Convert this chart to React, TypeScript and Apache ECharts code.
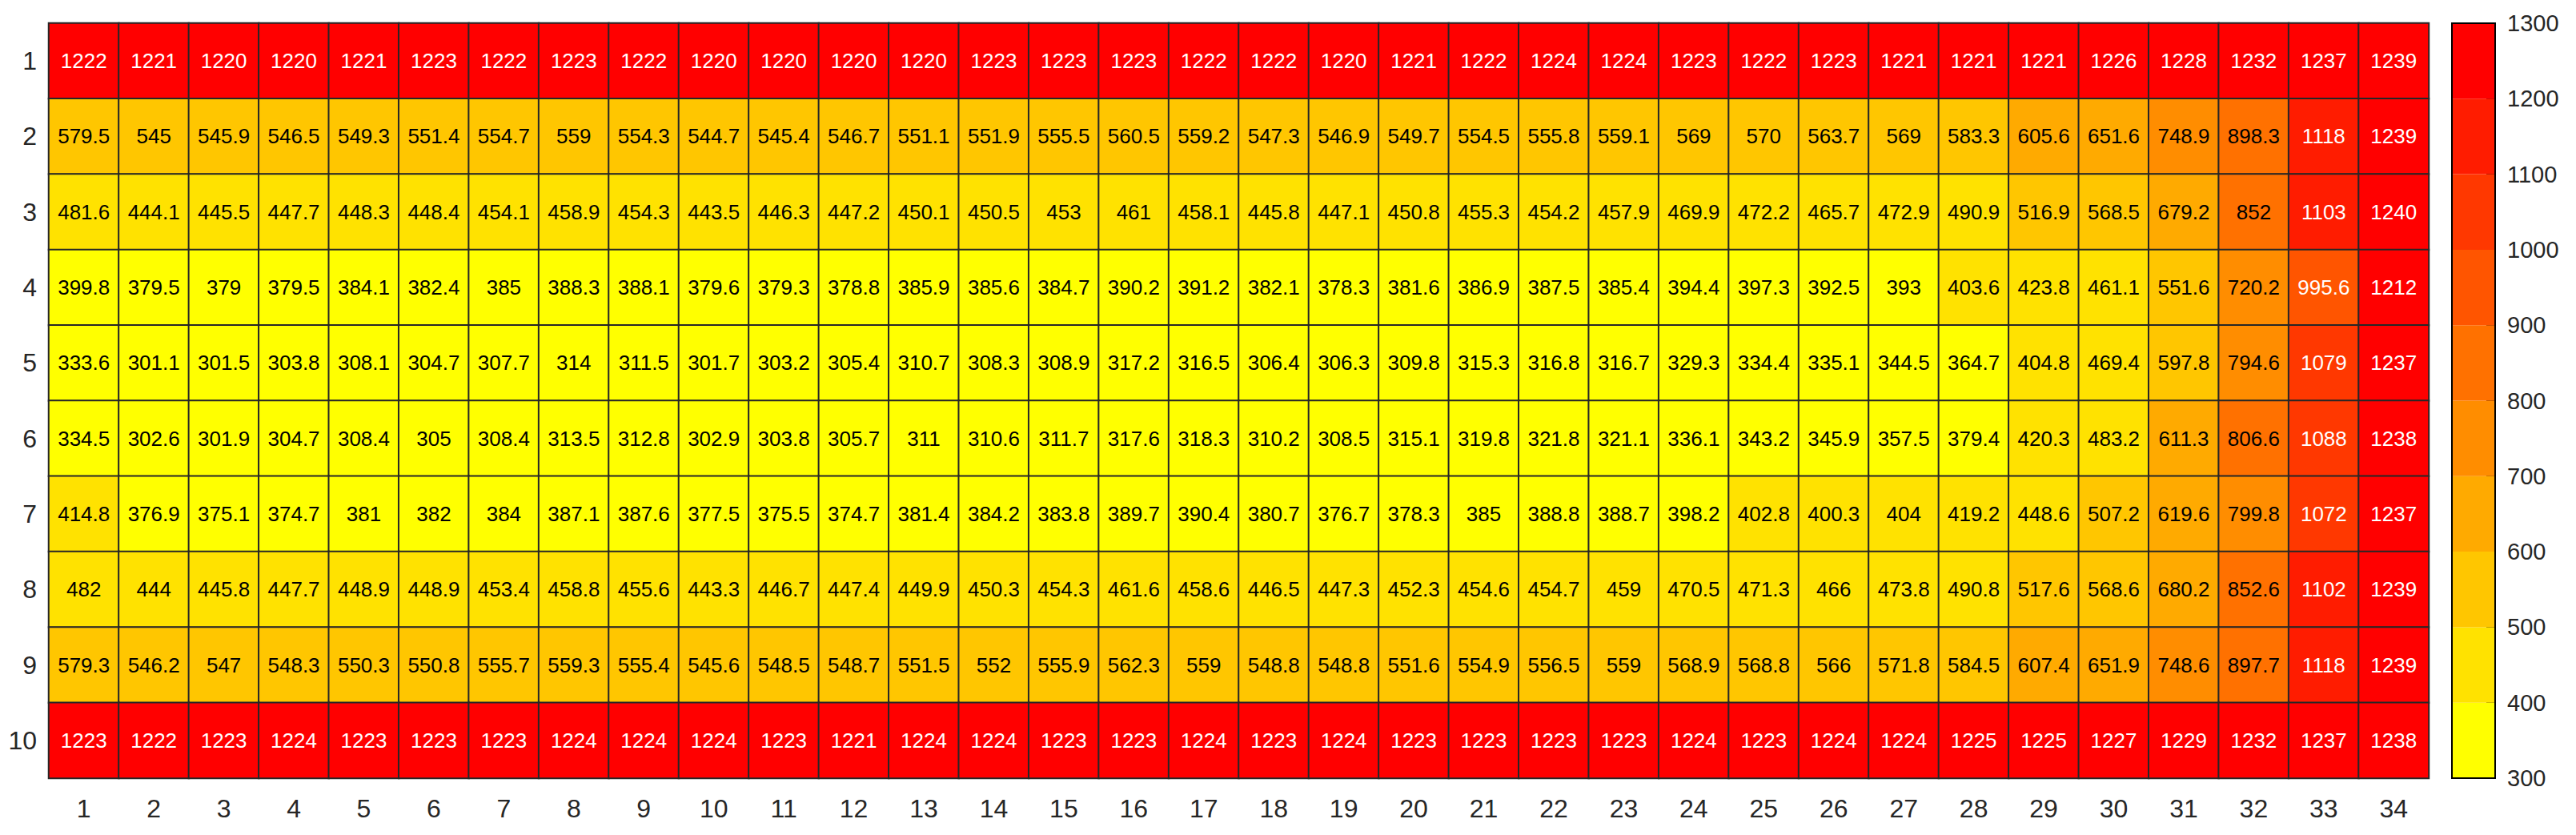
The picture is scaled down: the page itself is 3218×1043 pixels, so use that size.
import React, { useEffect, useRef } from "react";
import * as echarts from "echarts";

const colLabels = Array.from({ length: 34 }, (_, i) => String(i + 1));
const rowLabels = ["1", "2", "3", "4", "5", "6", "7", "8", "9", "10"];

const row1 = [1222, 1221, 1220, 1220, 1221, 1223, 1222, 1223, 1222, 1220, 1220, 1220, 1220, 1223, 1223, 1223, 1222, 1222, 1220, 1221, 1222, 1224, 1224, 1223, 1222, 1223, 1221, 1221, 1221, 1226, 1228, 1232, 1237, 1239];
const row2 = [579.5, 545, 545.9, 546.5, 549.3, 551.4, 554.7, 559, 554.3, 544.7, 545.4, 546.7, 551.1, 551.9, 555.5, 560.5, 559.2, 547.3, 546.9, 549.7, 554.5, 555.8, 559.1, 569, 570, 563.7, 569, 583.3, 605.6, 651.6, 748.9, 898.3, 1118, 1239];
const row3 = [481.6, 444.1, 445.5, 447.7, 448.3, 448.4, 454.1, 458.9, 454.3, 443.5, 446.3, 447.2, 450.1, 450.5, 453, 461, 458.1, 445.8, 447.1, 450.8, 455.3, 454.2, 457.9, 469.9, 472.2, 465.7, 472.9, 490.9, 516.9, 568.5, 679.2, 852, 1103, 1240];
const row4 = [399.8, 379.5, 379, 379.5, 384.1, 382.4, 385, 388.3, 388.1, 379.6, 379.3, 378.8, 385.9, 385.6, 384.7, 390.2, 391.2, 382.1, 378.3, 381.6, 386.9, 387.5, 385.4, 394.4, 397.3, 392.5, 393, 403.6, 423.8, 461.1, 551.6, 720.2, 995.6, 1212];
const row5 = [333.6, 301.1, 301.5, 303.8, 308.1, 304.7, 307.7, 314, 311.5, 301.7, 303.2, 305.4, 310.7, 308.3, 308.9, 317.2, 316.5, 306.4, 306.3, 309.8, 315.3, 316.8, 316.7, 329.3, 334.4, 335.1, 344.5, 364.7, 404.8, 469.4, 597.8, 794.6, 1079, 1237];
const row6 = [334.5, 302.6, 301.9, 304.7, 308.4, 305, 308.4, 313.5, 312.8, 302.9, 303.8, 305.7, 311, 310.6, 311.7, 317.6, 318.3, 310.2, 308.5, 315.1, 319.8, 321.8, 321.1, 336.1, 343.2, 345.9, 357.5, 379.4, 420.3, 483.2, 611.3, 806.6, 1088, 1238];
const row7 = [414.8, 376.9, 375.1, 374.7, 381, 382, 384, 387.1, 387.6, 377.5, 375.5, 374.7, 381.4, 384.2, 383.8, 389.7, 390.4, 380.7, 376.7, 378.3, 385, 388.8, 388.7, 398.2, 402.8, 400.3, 404, 419.2, 448.6, 507.2, 619.6, 799.8, 1072, 1237];
const row8 = [482, 444, 445.8, 447.7, 448.9, 448.9, 453.4, 458.8, 455.6, 443.3, 446.7, 447.4, 449.9, 450.3, 454.3, 461.6, 458.6, 446.5, 447.3, 452.3, 454.6, 454.7, 459, 470.5, 471.3, 466, 473.8, 490.8, 517.6, 568.6, 680.2, 852.6, 1102, 1239];
const row9 = [579.3, 546.2, 547, 548.3, 550.3, 550.8, 555.7, 559.3, 555.4, 545.6, 548.5, 548.7, 551.5, 552, 555.9, 562.3, 559, 548.8, 548.8, 551.6, 554.9, 556.5, 559, 568.9, 568.8, 566, 571.8, 584.5, 607.4, 651.9, 748.6, 897.7, 1118, 1239];
const row10 = [1223, 1222, 1223, 1224, 1223, 1223, 1223, 1224, 1224, 1224, 1223, 1221, 1224, 1224, 1223, 1223, 1224, 1223, 1224, 1223, 1223, 1223, 1223, 1224, 1223, 1224, 1224, 1225, 1225, 1227, 1229, 1232, 1237, 1238];

const rows = [row1, row2, row3, row4, row5, row6, row7, row8, row9, row10];

const levelEdges = [300, 400, 500, 600, 700, 800, 900, 1000, 1100, 1200, 1300];
const levelColors = ["#FFFF00", "#FFE200", "#FFC600", "#FFAA00", "#FF8D00", "#FF7100", "#FF5500", "#FF3800", "#FF1C00", "#FF0000"];
const whiteTextFrom = 900;

const FONT = "'Liberation Sans', Arial, Helvetica, sans-serif";
const TEXT = "#262626";

export default function App() {
  const ref = useRef<HTMLDivElement>(null);
  useEffect(() => {
    document.body.style.margin = "0";
    const chart = echarts.init(ref.current!, null, { renderer: "svg" });

    const heatData: any[] = [];
    rows.forEach((r, ri) => {
      r.forEach((v, ci) => {
        heatData.push({
          value: [ci, ri, v],
          label: { color: v >= whiteTextFrom ? "#FFFFFF" : "#000000" },
        });
      });
    });

    const pieces = levelColors.map((c, i) => ({
      gte: levelEdges[i],
      lt: i === levelColors.length - 1 ? levelEdges[i + 1] + 1 : levelEdges[i + 1],
      color: c,
    }));

    const cbData = levelColors.map((_, i) => [0, levelEdges[i], levelEdges[i + 1]]);

    chart.setOption({
      animation: false,
      backgroundColor: "#FFFFFF",
      textStyle: { fontFamily: FONT },
      grid: [
        { left: 61, right: 184, top: 29, bottom: 71, containLabel: false },
        { left: 3063, right: 101, top: 29, bottom: 71, show: true, borderColor: "#000000", borderWidth: 2, backgroundColor: "transparent", z: 5 },
      ],
      xAxis: [
        {
          type: "category",
          gridIndex: 0,
          data: colLabels,
          axisLine: { show: false },
          axisTick: { show: false },
          splitLine: { show: false },
          axisLabel: { fontSize: 32, color: TEXT, margin: 22, fontFamily: FONT },
        },
        {
          type: "category",
          gridIndex: 1,
          data: [""],
          axisLine: { show: false },
          axisTick: { show: false },
          axisLabel: { show: false },
        },
      ],
      yAxis: [
        {
          type: "category",
          gridIndex: 0,
          data: rowLabels,
          inverse: true,
          axisLine: { show: false },
          axisTick: { show: false },
          splitLine: { show: false },
          axisLabel: { fontSize: 32, color: TEXT, margin: 15, fontFamily: FONT },
        },
        {
          type: "value",
          gridIndex: 1,
          position: "right",
          min: 300,
          max: 1300,
          interval: 100,
          axisLine: { show: false },
          splitLine: { show: false },
          axisTick: { show: true, inside: true, length: 11, lineStyle: { color: "#000000", width: 2 } },
          axisLabel: { fontSize: 29, color: TEXT, margin: 15, fontFamily: FONT, formatter: (v: number) => String(v) },
        },
      ],
      visualMap: {
        type: "piecewise",
        show: false,
        seriesIndex: 0,
        dimension: 2,
        pieces,
      },
      series: [
        {
          type: "heatmap",
          xAxisIndex: 0,
          yAxisIndex: 0,
          data: heatData,
          itemStyle: { borderColor: "#262626", borderWidth: 2 },
          label: {
            show: true,
            fontSize: 26,
            fontFamily: FONT,
            formatter: (p: any) => String(p.value[2]),
          },
          emphasis: { disabled: true },
        },
        {
          type: "custom",
          xAxisIndex: 1,
          yAxisIndex: 1,
          data: cbData,
          z: 1,
          renderItem: (params: any, api: any) => {
            const lo = api.value(1);
            const hi = api.value(2);
            const pTop = api.coord([0, hi]);
            const pBot = api.coord([0, lo]);
            const size = api.size([1, 0]);
            return {
              type: "rect",
              shape: { x: pTop[0] - size[0] / 2, y: pTop[1], width: size[0], height: pBot[1] - pTop[1] },
              style: { fill: levelColors[params.dataIndex] },
            };
          },
        },
      ],
    });
    return () => chart.dispose();
  }, []);
  return <div ref={ref} style={{ width: 3218, height: 1043 }} />;
}
